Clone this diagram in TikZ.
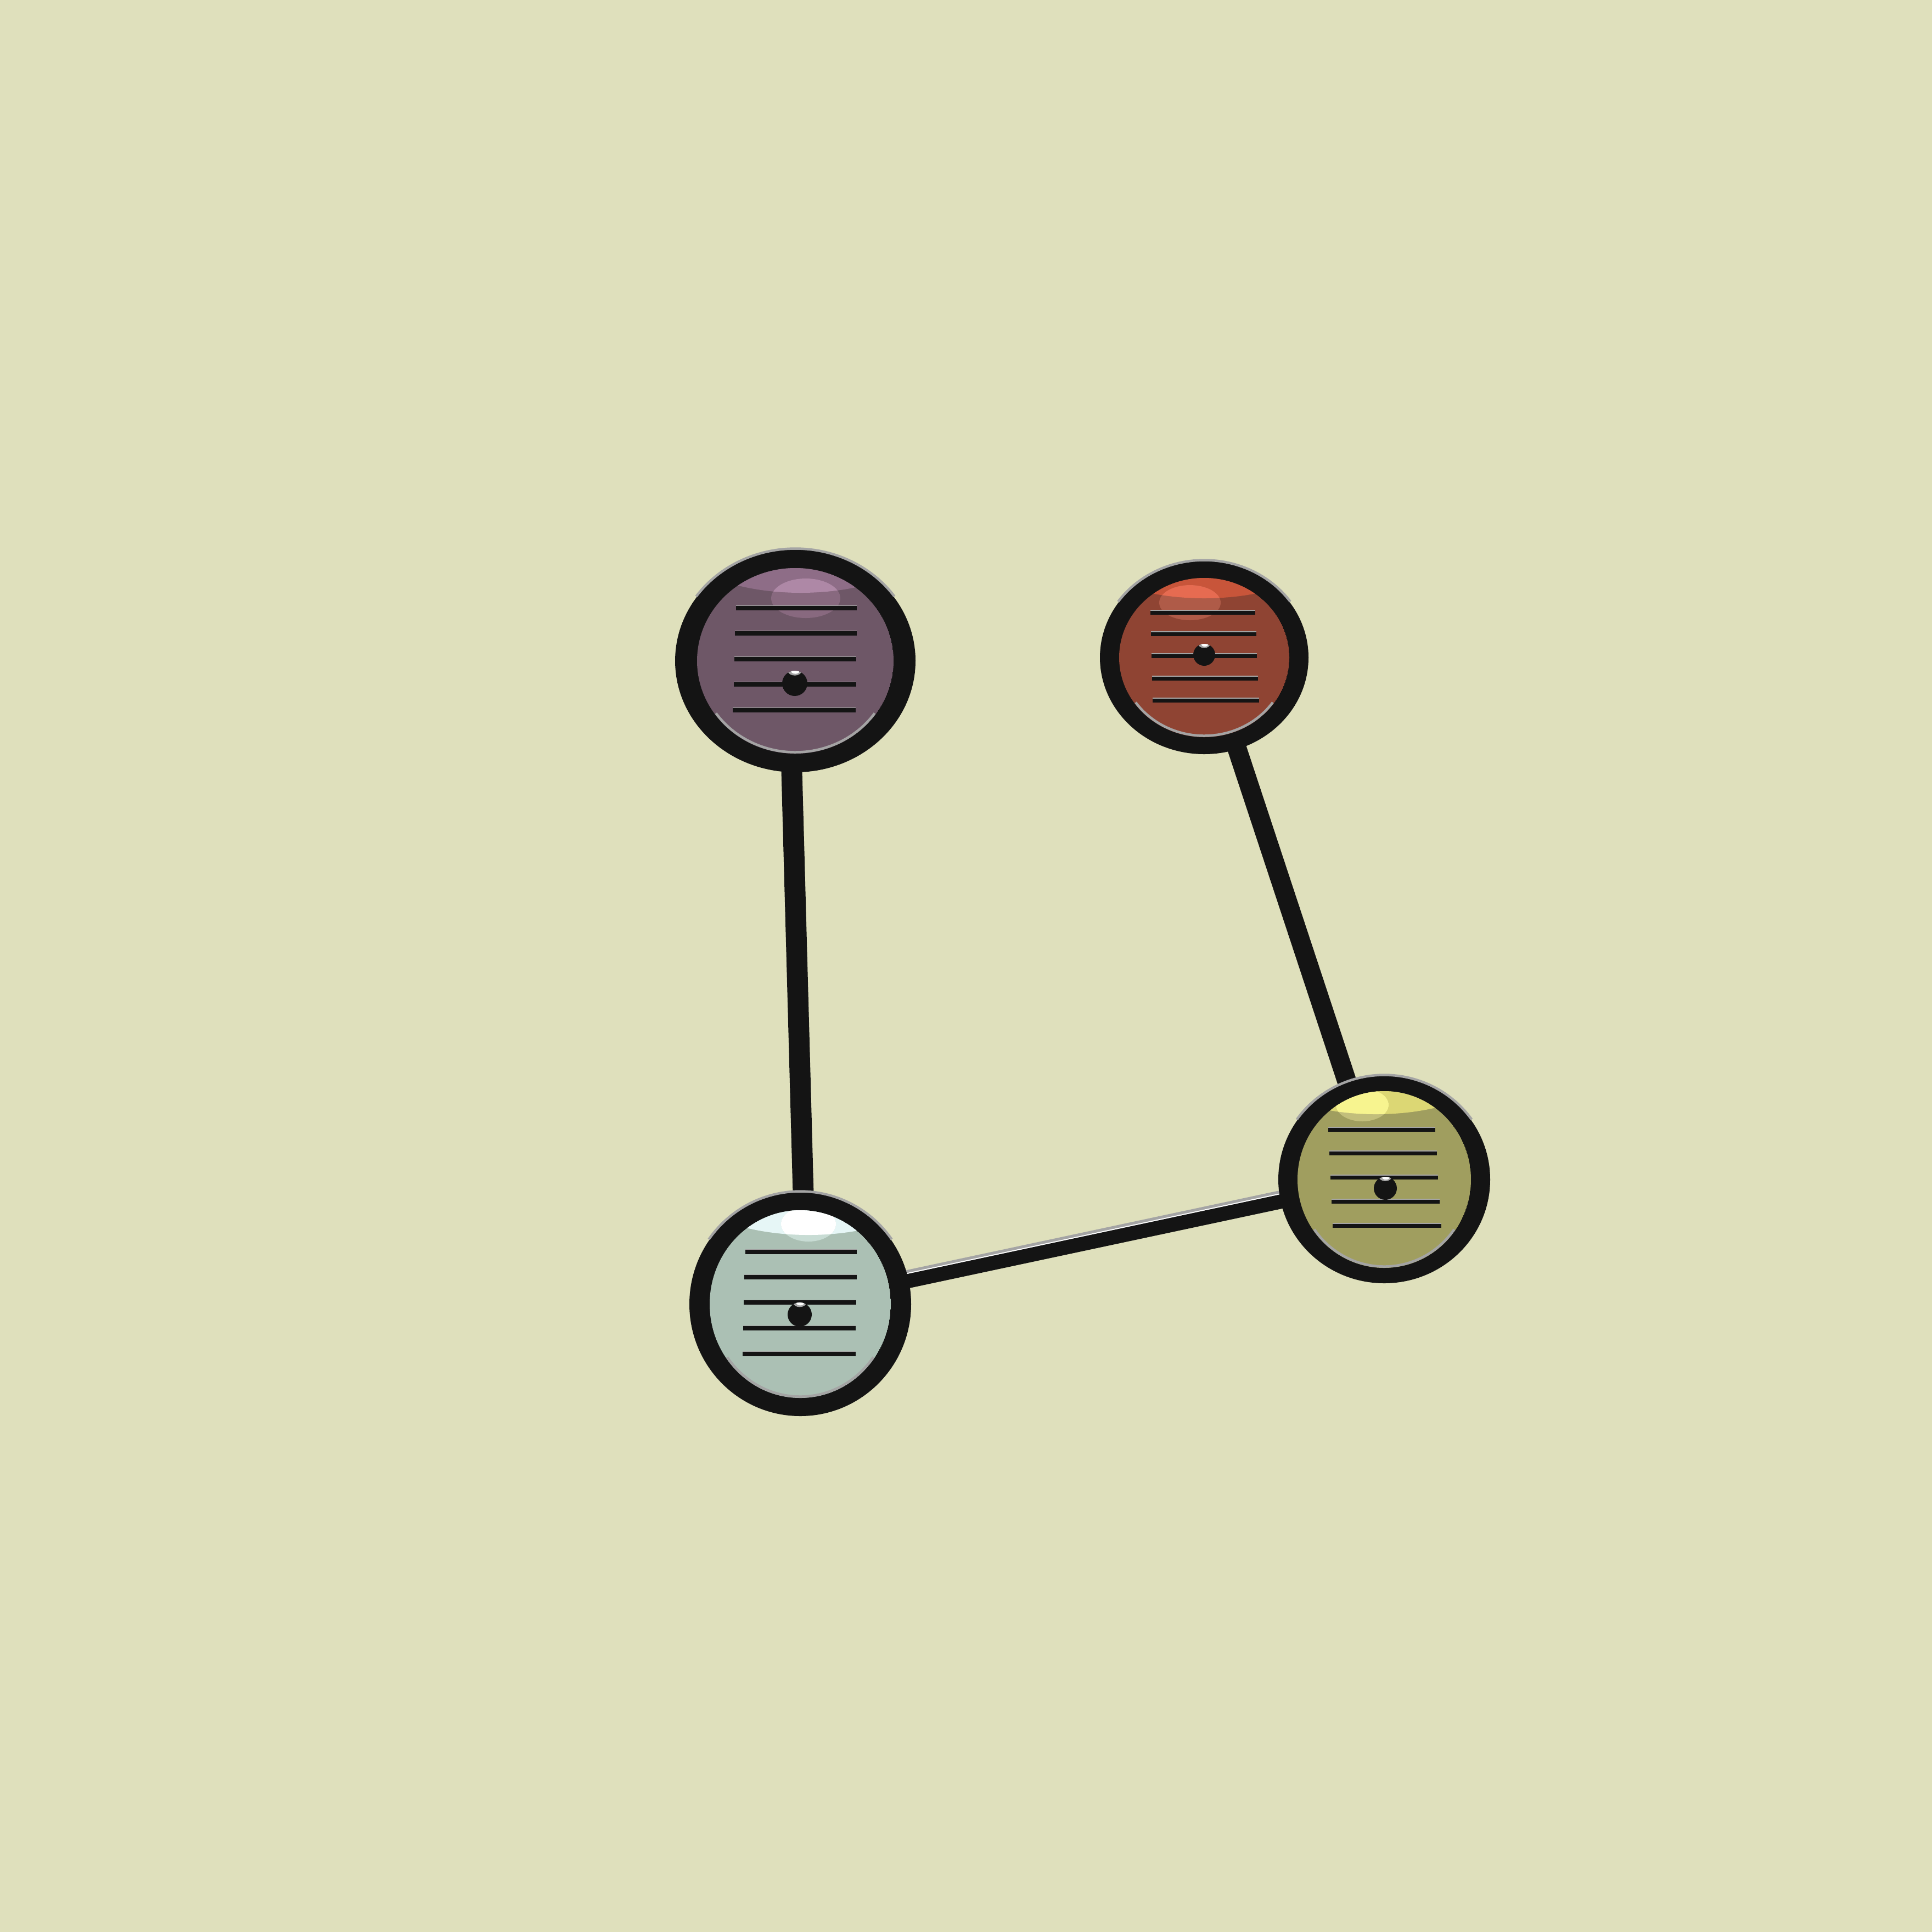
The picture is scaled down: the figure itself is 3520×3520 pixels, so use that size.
\documentclass[tikz,border=0pt]{standalone}
\usetikzlibrary{shapes.geometric}
\pgfdeclarelayer{bg}
\pgfsetlayers{bg,main}
\definecolor{bgc}{HTML}{DFE0BC}
\definecolor{ink}{HTML}{141414}
\definecolor{rim}{HTML}{A4A4A4}
% purple
\definecolor{puF}{HTML}{6E5767}
\definecolor{puB}{HTML}{8E6D87}
\definecolor{puU}{HTML}{AE88A6}
\definecolor{puL}{HTML}{88697F}
% red
\definecolor{reF}{HTML}{8F4433}
\definecolor{reB}{HTML}{C8553A}
\definecolor{reU}{HTML}{E66B51}
\definecolor{reL}{HTML}{AF5B48}
% yellow
\definecolor{yeF}{HTML}{A09E5F}
\definecolor{yeB}{HTML}{DCD774}
\definecolor{yeU}{HTML}{F7F48F}
\definecolor{yeL}{HTML}{C2BE7B}
% blue-grey
\definecolor{blF}{HTML}{ABC0B4}
\definecolor{blB}{HTML}{E6F6F6}
\definecolor{blU}{HTML}{FFFFFF}
\definecolor{blL}{HTML}{C8DCD4}
\tikzset{
  ring/.style={shape=ellipse, fill=ink, inner sep=0pt, outer sep=0pt},
  bar/.style={draw=ink},
  barhl/.style={draw=rim, line width=0.16mm},
  rimline/.style={draw=rim, line width=0.45mm},
  edge/.style={draw=ink, line cap=butt},
}
% left right y width
\newcommand\barln[4]{%
  \draw[barhl] (#1,#3+4.2) -- (#2,#3+4.2);
  \draw[bar, line width=#4] (#1,#3) -- (#2,#3);}
% x y r
\newcommand\bdot[3]{%
  \fill[ink] (#1,#2) circle[radius=#3];
  \begin{scope}
    \clip (#1,#2) circle[radius=#3];
    \fill[rim] (#1,#2+#3) ellipse[x radius=0.55*#3, y radius=0.38*#3];
    \fill[white] (#1+1,#2+#3-1) ellipse[x radius=0.32*#3, y radius=0.2*#3];
  \end{scope}}
\newcommand\lens[8]{% irx iry fill band bx by
  \clip (0,0) ellipse[x radius=#1, y radius=#2];
  \fill[#3] (0,0) ellipse[x radius=#1, y radius=#2];
  \fill[#4] (#5,#6) ellipse[x radius=230, y radius=100];}
\newcommand\shine[8]{% bx by upper lower hx hy hrx hry
  \fill[#4] (#5,#6) ellipse[x radius=#7, y radius=#8];
  \begin{scope}
    \clip (#1,#2) ellipse[x radius=230, y radius=100];
    \fill[#3] (#5,#6) ellipse[x radius=#7, y radius=#8];
  \end{scope}}
\newcommand\rims[4]{% orx ory irx iry
  \draw[rimline] (35:#1+1.5 and #2+1.5) arc[start angle=35, end angle=145, x radius=#1+1.5, y radius=#2+1.5];
  \draw[rimline] (215:#3-2.5 and #4-2.5) arc[start angle=215, end angle=325, x radius=#3-2.5, y radius=#4-2.5];}

\begin{document}
\begin{tikzpicture}[x=0.1mm, y=0.1mm]
\useasboundingbox (0,0) rectangle (3520,-3520);

% ---------- purple node ----------
\node[ring, minimum width=43.8mm, minimum height=40.6mm] (pu) at (1449,-1204) {};
\begin{scope}[shift={(pu.center)}]
  \begin{scope}
    \lens{179}{169}{puF}{puB}{10}{224}{}{}
    \shine{10}{224}{puU}{puL}{19}{114}{63}{36}
  \end{scope}
  \rims{219}{203}{179}{169}
  \barln{-108}{112}{96}{0.8mm}
  \barln{-110}{112}{50}{0.8mm}
  \barln{-111}{111}{3}{0.8mm}
  \barln{-112}{111}{-43}{0.8mm}
  \barln{-114}{110}{-90}{0.8mm}
  \bdot{-1}{-41}{23}
\end{scope}

% ---------- red node ----------
\node[ring, minimum width=38.0mm, minimum height=35.2mm] (re) at (2194,-1198) {};
\begin{scope}[shift={(re.center)}]
  \begin{scope}
    \lens{155}{145}{reF}{reB}{0}{208}{}{}
    \shine{0}{208}{reU}{reL}{-26}{100}{56}{32}
  \end{scope}
  \rims{190}{176}{155}{145}
  \barln{-98}{93}{82}{0.7mm}
  \barln{-97}{95}{43}{0.7mm}
  \barln{-96}{96}{3}{0.7mm}
  \barln{-95}{98}{-38}{0.7mm}
  \barln{-94}{100}{-78}{0.7mm}
  \bdot{0}{5}{20}
\end{scope}

% ---------- yellow node ----------
\node[ring, minimum width=38.6mm, minimum height=37.8mm] (ye) at (2522,-2149) {};
\begin{scope}[shift={(ye.center)}]
  \begin{scope}
    \lens{158}{161}{yeF}{yeB}{-15}{219}{}{}
    \shine{-15}{219}{yeU}{yeL}{-40}{136}{48}{30}
  \end{scope}
  \rims{193}{189}{158}{161}
  \barln{-102}{93}{91}{0.7mm}
  \barln{-100}{96}{48}{0.7mm}
  \barln{-98}{98}{4}{0.7mm}
  \barln{-96}{101}{-40}{0.7mm}
  \barln{-94}{104}{-84}{0.7mm}
  \bdot{2}{-16}{21}
\end{scope}

% ---------- blue-grey node ----------
\node[ring, minimum width=40.4mm, minimum height=40.8mm] (bl) at (1458,-2376) {};
\begin{scope}[shift={(bl.center)}]
  \begin{scope}
    \lens{165}{171}{blF}{blB}{15}{226}{}{}
    \shine{15}{226}{blU}{blL}{15}{146}{50}{32}
  \end{scope}
  \rims{202}{204}{165}{171}
  \barln{-100}{103}{95}{0.8mm}
  \barln{-102}{103}{49}{0.8mm}
  \barln{-103}{102}{3}{0.8mm}
  \barln{-104}{101}{-44}{0.8mm}
  \barln{-105}{101}{-91}{0.8mm}
  \bdot{-1}{-19}{22}
\end{scope}

% ---------- background and connectors ----------
\begin{pgfonlayer}{bg}
  \fill[bgc] (0,0) rectangle (3520,-3520);
  \draw[edge, line width=3.8mm] ([xshift=-1.2mm]pu.center) -- ([xshift=1.1mm]bl.center);
  \draw[edge, line width=3.5mm] ([xshift=0.5mm]re.center) -- ([xshift=-0.9mm]ye.center);
  \draw[draw=rim, line width=1.2mm] ([yshift=1.45mm]bl.center) -- ([yshift=1.45mm]ye.center);
  \draw[draw=white, line width=0.35mm] ([yshift=1.35mm]bl.center) -- ([yshift=1.35mm]ye.center);
  \draw[edge, line width=2.6mm] (bl.center) -- (ye.center);
\end{pgfonlayer}
\end{tikzpicture}
\end{document}
